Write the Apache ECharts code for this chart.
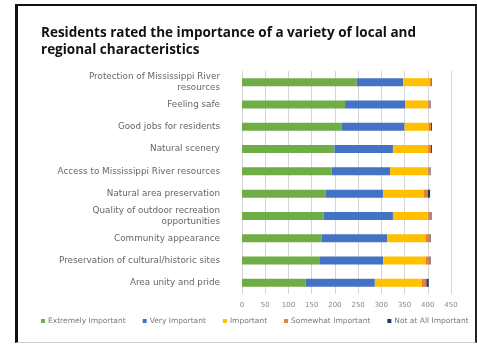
<!DOCTYPE html>
<html>
<head>
<meta charset="utf-8">
<script src="https://cdn.jsdelivr.net/npm/echarts@6/dist/echarts.min.js"></script>
<style>
  html, body { margin: 0; padding: 0; background: #fff; }
  #frame {
    position: absolute; left: 15px; top: 4px; width: 457px; height: 336px;
    border-left: 3px solid #111; border-top: 2px solid #111;
    border-right: 2px solid #222; border-bottom: 1px solid #ccc;
  }
  #main { position: absolute; left: 0; top: 0; width: 477px; height: 348px; }
</style>
</head>
<body>
<div id="frame"></div>
<div id="main"></div>
<script>
// 分类与数据
var categories = [
    'Protection of Mississippi River\nresources',
    'Feeling safe',
    'Good jobs for residents',
    'Natural scenery',
    'Access to Mississippi River resources',
    'Natural area preservation',
    'Quality of outdoor recreation\nopportunities',
    'Community appearance',
    'Preservation of cultural/historic sites',
    'Area unity and pride'
];
var extremely = [247, 222, 215, 199, 193, 181, 176, 172, 168, 137];
var very      = [100, 129, 135, 126, 126, 123, 149, 141, 136, 149];
var important = [57, 50, 52, 76, 82, 87, 76, 82, 92, 101];
var somewhat  = [4, 4, 5, 6, 4, 9, 5, 9, 8, 10];
var notAtAll  = [1, 1, 2, 2, 1, 5, 2, 2, 2, 5];
var xTicks = [0, 50, 100, 150, 200, 250, 300, 350, 400, 450];
var seriesNames = ['Extremely Important', 'Very Important', 'Important', 'Somewhat Important', 'Not at All Important'];
var seriesColors = ['#70AD47', '#4472C4', '#FFC000', '#ED7D31', '#1F3864'];

var e = echarts.init(document.getElementById('main'));

var dataList = [extremely, very, important, somewhat, notAtAll];
var series = [];
for (var i = 0; i < dataList.length; i++) {
    series.push({
        name: seriesNames[i],
        type: 'bar',
        stack: 'total',
        data: dataList[i],
        barWidth: 8,
        itemStyle: { color: seriesColors[i] }
    });
}

var option = {
    animation: false,
    title: {
        text: 'Residents rated the importance of a variety of local and\nregional characteristics',
        left: 36,
        top: 20,
        textStyle: {
            fontFamily: 'Open Sans',
            fontWeight: 'bold',
            fontSize: 13.5,
            lineHeight: 17,
            color: '#111'
        }
    },
    legend: {
        data: seriesNames,
        bottom: 18,
        left: 36,
        itemWidth: 4,
        itemHeight: 4,
        itemGap: 17,
        icon: 'rect',
        textStyle: { fontFamily: 'DejaVu Sans', fontSize: 7.5, color: '#7a7a7a', padding: [0, 0, 0, -2] }
    },
    grid: {
        left: 242,
        right: 26,
        top: 71,
        bottom: 54
    },
    xAxis: {
        type: 'value',
        min: xTicks[0],
        max: xTicks[xTicks.length - 1],
        interval: 50,
        axisLine: { show: false },
        axisTick: { show: false },
        splitLine: { show: true, lineStyle: { color: '#d4d4d4', width: 1 } },
        axisLabel: { fontFamily: 'DejaVu Sans', fontSize: 7, color: '#888', margin: 8 }
    },
    yAxis: {
        type: 'category',
        inverse: true,
        data: categories,
        axisLine: { show: false },
        axisTick: { show: false },
        axisLabel: {
            fontFamily: 'DejaVu Sans',
            fontSize: 8.8,
            color: '#666',
            lineHeight: 11,
            margin: 22
        }
    },
    series: series
};
e.setOption(option);
</script>
</body>
</html>
